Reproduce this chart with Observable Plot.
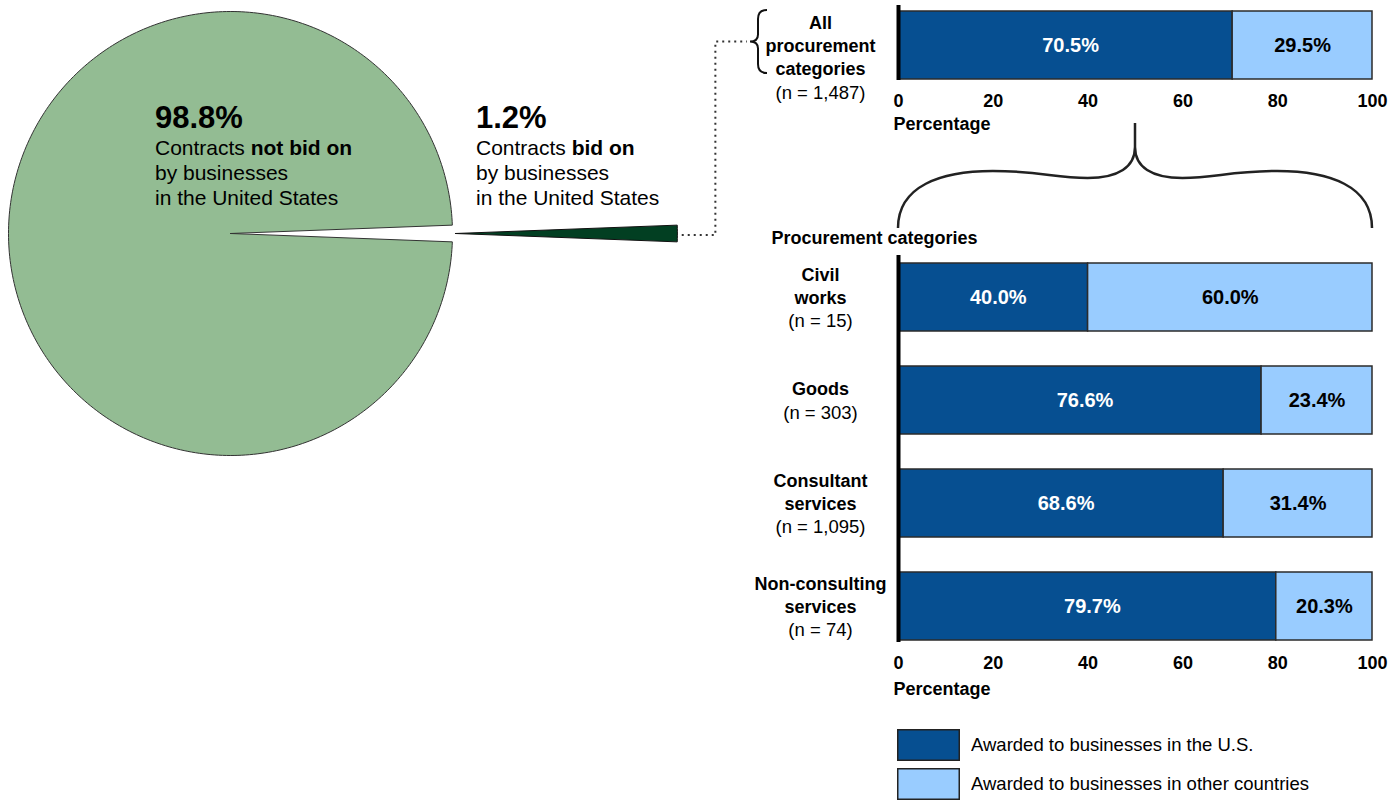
<!DOCTYPE html>
<html><head><meta charset="utf-8">
<script src="https://cdn.jsdelivr.net/npm/d3@7"></script>
<script src="https://cdn.jsdelivr.net/npm/@observablehq/plot@0.6"></script>
<style>
html,body{margin:0;padding:0;background:#fff;}
#root{position:relative;width:1399px;height:800px;overflow:hidden;font-family:"Liberation Sans",Arial,Helvetica,sans-serif;color:#000;}
.abs{position:absolute;}
.pielab .big{font-size:31px;font-weight:bold;line-height:34px;}
.pielab .small{font-size:21px;line-height:25px;}
#root .lg-swatch{margin-bottom:7px;padding-bottom:0;}
#root .lg-swatch svg{overflow:hidden;margin-right:11px !important;}
#root .lg-swatch svg rect{stroke:#222;stroke-width:3;}
</style></head><body><div id="root"></div>
<script>
// ---------------- data ----------------
const pieLabels = ["Contracts not bid on", "Contracts bid on"];
const pieShares = [98.8, 1.2];
const pieColors = ["#93bc93", "#023f22"];

const overallCategory = ["All\nprocurement\ncategories"];
const overallN = [1487];
const overallUS = [70.5];
const overallOther = [29.5];

const categories = ["Civil\nworks", "Goods", "Consultant\nservices", "Non-consulting\nservices"];
const categoryN = [15, 303, 1095, 74];
const usShares = [40.0, 76.6, 68.6, 79.7];
const otherShares = [60.0, 23.4, 31.4, 20.3];

const seriesNames = ["Awarded to businesses in the U.S.", "Awarded to businesses in other countries"];
const seriesColors = ["#064f91", "#99ccff"];
const xTicks = [0, 20, 40, 60, 80, 100];

// ---------------- layout ----------------
const root = document.getElementById("root");
const FONT = '"Liberation Sans", Arial, Helvetica, sans-serif';
function place(el, left, top) {
  const d = document.createElement("div");
  d.className = "abs";
  d.style.left = left + "px";
  d.style.top = top + "px";
  d.appendChild(el);
  root.appendChild(d);
  return d;
}

// ---------------- pie ----------------
const TAU = Math.PI * 2;
const smallAngle = pieShares[1] / d3.sum(pieShares) * TAU;
const startA = Math.PI / 2 + smallAngle / 2;
const arcs = d3.pie().sort(null).startAngle(startA).endAngle(startA + TAU)(pieShares);
const explode = [0, 1.013];
const pieRows = [];
arcs.forEach((a, i) => {
  const mid = (a.startAngle + a.endAngle) / 2;
  const ox = Math.sin(mid) * explode[i], oy = Math.cos(mid) * explode[i];
  const steps = Math.max(4, Math.ceil((a.endAngle - a.startAngle) / (Math.PI / 180)));
  pieRows.push({slice: pieLabels[i], x: ox, y: oy});
  for (let k = 0; k <= steps; k++) {
    const t = a.startAngle + (a.endAngle - a.startAngle) * k / steps;
    pieRows.push({slice: pieLabels[i], x: ox + Math.sin(t), y: oy + Math.cos(t)});
  }
  pieRows.push({slice: pieLabels[i], x: ox, y: oy});
});

const piePlot = Plot.plot({
  width: 700, height: 470, margin: 0,
  style: {background: "transparent", overflow: "visible"},
  x: {domain: [-1, 1], range: [8, 452], axis: null},
  y: {domain: [-1, 1], range: [455, 11], axis: null},
  marks: pieLabels.map((lab, i) =>
    Plot.line(pieRows.filter(d => d.slice === lab), {x: "x", y: "y", fill: pieColors[i], stroke: i ? "#111" : "#333", strokeWidth: 1, curve: "linear"})
  )
});
place(piePlot, 0, 0);

function pieLabel(left, share, boldPart) {
  const d = document.createElement("div");
  d.className = "pielab";
  d.innerHTML = `<div class="big">${share.toFixed(1)}%</div>` +
    `<div class="small">Contracts <b>${boldPart}</b><br>by businesses<br>in the United States</div>`;
  place(d, left, 101);
}
pieLabel(155, pieShares[0], "not bid on");
pieLabel(476, pieShares[1], "bid on");

// ---------------- bar charts ----------------
function rows(cats, us, other) {
  const out = [];
  cats.forEach((c, i) => {
    out.push({cat: c, series: seriesNames[0], x1: 0, x2: us[i], value: us[i]});
    out.push({cat: c, series: seriesNames[1], x1: us[i], x2: us[i] + other[i], value: other[i]});
  });
  return out;
}

function barPlot({cats, ns, us, other, height, marginTop, marginBottom, yOpts, ruleInsetTop, labelDy, lineHeight, pctDy, extra = []}) {
  const data = rows(cats, us, other);
  const labels = cats.map((c, i) => ({cat: c, label: c + "\n(n = " + d3.format(",")(ns[i]) + ")"}));
  const plot = Plot.plot({
    width: 659, height, marginLeft: 158, marginRight: 27, marginTop, marginBottom,
    style: {background: "transparent", overflow: "visible", fontFamily: FONT, fontSize: "18px", fontWeight: "bold", color: "#000"},
    x: {domain: [0, 100]},
    y: {domain: cats, axis: null, ...yOpts},
    color: {domain: seriesNames, range: seriesColors},
    marks: [
      Plot.barX(data, {x1: "x1", x2: "x2", y: "cat", fill: "series", stroke: "#2b2b2b", strokeWidth: 1.5}),
      Plot.text(data.filter(d => d.series === seriesNames[0]), {x: d => (d.x1 + d.x2) / 2, y: "cat", text: d => d.value.toFixed(1) + "%", fill: "white", fontSize: 20, fontWeight: "bold", dx: 5}),
      Plot.text(data.filter(d => d.series === seriesNames[1]), {x: d => (d.x1 + d.x2) / 2, y: "cat", text: d => d.value.toFixed(1) + "%", fill: "black", fontSize: 20, fontWeight: "bold"}),
      Plot.ruleX([0], {stroke: "black", strokeWidth: 4, insetTop: ruleInsetTop, insetBottom: -1}),
      Plot.text(labels, {x: () => 0, y: "cat", text: "label", dx: -78, dy: labelDy, textAnchor: "middle", lineAnchor: "middle", lineHeight, fontSize: 18, fontWeight: "bold", fill: "black"}),
      Plot.axisX({ticks: xTicks, tickSize: 0, tickPadding: 15, label: null, fontWeight: "bold"}),
      Plot.text(["Percentage"], {frameAnchor: "bottom-left", dx: -5, dy: pctDy, textAnchor: "start", lineAnchor: "middle", fontSize: 18, fontWeight: "bold", fill: "black"}),
      ...extra
    ]
  });
  d3.select(plot).selectAll("text").each(function () {
    const ts = this.querySelectorAll("tspan");
    if (ts.length && ts[ts.length - 1].textContent.startsWith("(n =")) {
      ts[ts.length - 1].setAttribute("font-weight", "normal");
      ts[ts.length - 1].setAttribute("font-size", "18.5px");
    }
  });
  return plot;
}

const TOP_LEFT = 740, TOP_TOP = 0, LOW_TOP = 228;
const topPlot = barPlot({
  cats: overallCategory, ns: overallN, us: overallUS, other: overallOther,
  height: 139, marginTop: 11, marginBottom: 60, yOpts: {padding: 0},
  ruleInsetTop: -6, labelDy: 10.5, lineHeight: 1.28, pctDy: 45
});
place(topPlot, TOP_LEFT, TOP_TOP);

const lowPlot = barPlot({
  cats: categories, ns: categoryN, us: usShares, other: otherShares,
  height: 472, marginTop: 34, marginBottom: 59, yOpts: {paddingInner: 0.344, paddingOuter: 0},
  ruleInsetTop: -7, labelDy: -1, lineHeight: 1.25, pctDy: 48,
  extra: [Plot.text(["Procurement categories"], {frameAnchor: "top-left", dx: -127, dy: -24, textAnchor: "start", lineAnchor: "middle", fontSize: 18, fontWeight: "bold", fill: "black"})]
});
place(lowPlot, TOP_LEFT, LOW_TOP);

// ---------------- legend ----------------
const legend = Plot.legend({
  legend: "swatches",
  color: {type: "ordinal", domain: seriesNames, range: seriesColors},
  columns: 1, swatchWidth: 63, swatchHeight: 32, className: "lg",
  style: {fontFamily: FONT, fontSize: "18.5px", color: "#000"}
});
place(legend, 897, 729);

// ---------------- connectors & braces ----------------
const px = piePlot.scale("x"), py = piePlot.scale("y");
const tx = topPlot.scale("x"), ty = topPlot.scale("y");
const lx = lowPlot.scale("x");
const wedgeEnd = px.apply(explode[1] + Math.cos(smallAngle / 2));
const pieCy = py.apply(0) + 2;
const topBandY = TOP_TOP + ty.apply(overallCategory[0]);
const braceTop = topBandY - 1, braceBot = topBandY + 62, braceMid = (braceTop + braceBot) / 2;
const braceRight = TOP_LEFT + tx.apply(0) - 131, braceTip = braceRight - 17;
const xv = (wedgeEnd + braceTip) / 2 + 2;

const svg = d3.create("svg").attr("width", 1399).attr("height", 800)
  .style("position", "absolute").style("left", 0).style("top", 0).style("pointer-events", "none");
svg.append("path")
  .attr("d", `M${wedgeEnd + 5},${pieCy} H${xv} V${braceMid} H${braceTip - 3}`)
  .attr("fill", "none").attr("stroke", "#333").attr("stroke-width", 2).attr("stroke-dasharray", "2,4");
const bi = braceRight - 9;
svg.append("path")
  .attr("d", `M${braceRight},${braceTop} Q${bi},${braceTop} ${bi},${braceTop + 9} L${bi},${braceMid - 7} Q${bi},${braceMid} ${braceTip},${braceMid} Q${bi},${braceMid} ${bi},${braceMid + 7} L${bi},${braceBot - 9} Q${bi},${braceBot} ${braceRight},${braceBot}`)
  .attr("fill", "none").attr("stroke", "#111").attr("stroke-width", 2);

const x0 = TOP_LEFT + lx.apply(0), x1 = TOP_LEFT + lx.apply(100), xm = TOP_LEFT + lx.apply(50);
const h = (x1 - x0) / 2, yb = 228, yt = 147, ys = 123, yh = 171, yd = 178;
svg.append("path")
  .attr("d",
    `M${x0},${yb} C${x0},${yb - 42} ${x0 + 0.18 * h},${yh} ${x0 + 0.4 * h},${yh} ` +
    `C${x0 + 0.6 * h},${yh} ${x0 + 0.66 * h},${yd} ${x0 + 0.8 * h},${yd} ` +
    `C${x0 + 0.93 * h},${yd} ${xm},${yt + 20} ${xm},${yt} ` +
    `C${xm},${yt + 20} ${x1 - 0.93 * h},${yd} ${x1 - 0.8 * h},${yd} ` +
    `C${x1 - 0.66 * h},${yd} ${x1 - 0.6 * h},${yh} ${x1 - 0.4 * h},${yh} ` +
    `C${x1 - 0.18 * h},${yh} ${x1},${yb - 42} ${x1},${yb} ` +
    `M${xm},${yt} V${ys}`)
  .attr("fill", "none").attr("stroke", "#222").attr("stroke-width", 2.5);
root.appendChild(svg.node());
</script>
</body></html>
